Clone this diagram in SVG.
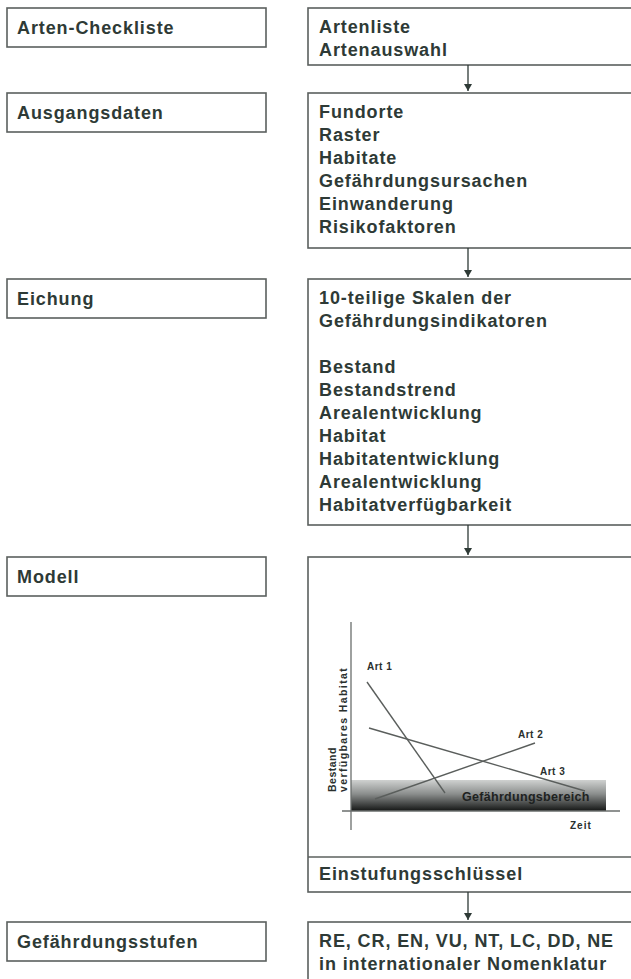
<svg xmlns="http://www.w3.org/2000/svg" width="631" height="979" viewBox="0 0 631 979">
<style>
.box{fill:#fff;stroke:#5b605e;stroke-width:1.6}
.t{font-family:"Liberation Sans",Arial,sans-serif;font-weight:bold;font-size:18px;letter-spacing:0.9px;fill:#2e3a36}
.s{font-family:"Liberation Sans",Arial,sans-serif;font-weight:bold;font-size:10px;letter-spacing:0.5px;fill:#2a302e}
.conn{stroke:#2e3a36;stroke-width:1.3;fill:none}
.ax{stroke:#6a6e6c;stroke-width:1.3;fill:none}
.ln{stroke:#5a5e5c;stroke-width:1.4;fill:none}
</style>
<defs>
<marker id="ah" markerWidth="8" markerHeight="9" refX="7" refY="4" orient="auto" markerUnits="userSpaceOnUse">
<path d="M0,0 L7,4 L0,8 Z" fill="#2e3a36"/>
</marker>
<linearGradient id="band" x1="0" y1="0" x2="0" y2="1">
<stop offset="0" stop-color="#cfd1d0"/>
<stop offset="0.45" stop-color="#8b8e8d"/>
<stop offset="1" stop-color="#141615"/>
</linearGradient>
</defs>
<rect width="631" height="979" fill="#fff"/>

<g id="arten-checkliste">
<rect class="box" x="7" y="8" width="259" height="39"/>
<text class="t" x="17" y="34">Arten-Checkliste</text>
</g>
<g id="artenliste">
<rect class="box" x="308" y="8" width="340" height="57"/>
<text class="t" x="319" y="33">Artenliste</text>
<text class="t" x="319" y="56">Artenauswahl</text>
</g>

<g id="ausgangsdaten">
<rect class="box" x="7" y="93" width="259" height="39"/>
<text class="t" x="17" y="119">Ausgangsdaten</text>
</g>
<g id="fundorte">
<rect class="box" x="308" y="93" width="340" height="155"/>
<text class="t" x="319" y="118">Fundorte</text>
<text class="t" x="319" y="141">Raster</text>
<text class="t" x="319" y="164">Habitate</text>
<text class="t" x="319" y="187">Gefährdungsursachen</text>
<text class="t" x="319" y="210">Einwanderung</text>
<text class="t" x="319" y="233">Risikofaktoren</text>
</g>

<g id="eichung">
<rect class="box" x="7" y="279" width="259" height="39"/>
<text class="t" x="17" y="305">Eichung</text>
</g>
<g id="skalen">
<rect class="box" x="308" y="279" width="340" height="246"/>
<text class="t" x="319" y="304">10-teilige Skalen der</text>
<text class="t" x="319" y="327">Gefährdungsindikatoren</text>
<text class="t" x="319" y="373">Bestand</text>
<text class="t" x="319" y="396">Bestandstrend</text>
<text class="t" x="319" y="419">Arealentwicklung</text>
<text class="t" x="319" y="442">Habitat</text>
<text class="t" x="319" y="465">Habitatentwicklung</text>
<text class="t" x="319" y="488">Arealentwicklung</text>
<text class="t" x="319" y="511">Habitatverfügbarkeit</text>
</g>

<g id="modell">
<rect class="box" x="7" y="557" width="259" height="39"/>
<text class="t" x="17" y="583">Modell</text>
</g>
<g id="modell-diagramm">
<rect class="box" x="308" y="557" width="340" height="335"/>
<line class="box" x1="308" y1="857" x2="648" y2="857"/>
<rect x="351" y="780" width="255" height="31" fill="url(#band)"/>
<line class="ax" x1="351" y1="622" x2="351" y2="830"/>
<line class="ax" x1="342" y1="811" x2="620" y2="811"/>
<line class="ln" x1="367" y1="682" x2="445" y2="793"/>
<line class="ln" x1="369" y1="728" x2="585" y2="791"/>
<line class="ln" x1="375" y1="799" x2="535" y2="743"/>
<text class="s" x="367" y="670">Art 1</text>
<text class="s" x="518" y="738">Art 2</text>
<text class="s" x="540" y="775">Art 3</text>
<text class="s" x="462" y="801" style="font-size:12.5px;letter-spacing:0.3px;fill:#1e2221">Gefährdungsbereich</text>
<text class="s" x="570" y="829" style="letter-spacing:1px">Zeit</text>
<text class="s" transform="translate(336,792) rotate(-90)" style="font-size:10.5px">Bestand</text>
<text class="s" transform="translate(347,792) rotate(-90)" style="font-size:10.5px;letter-spacing:1.4px">verfügbares Habitat</text>
<text class="t" x="319" y="880">Einstufungsschlüssel</text>
</g>

<g id="gefaehrdungsstufen">
<rect class="box" x="7" y="922" width="259" height="39"/>
<text class="t" x="17" y="948">Gefährdungsstufen</text>
</g>
<g id="nomenklatur">
<rect class="box" x="308" y="922" width="340" height="80"/>
<text class="t" x="319" y="947">RE, CR, EN, VU, NT, LC, DD, NE</text>
<text class="t" x="319" y="970">in internationaler Nomenklatur</text>
</g>

<g id="connectors">
<line class="conn" x1="468" y1="65" x2="468" y2="91" marker-end="url(#ah)"/>
<line class="conn" x1="468" y1="248" x2="468" y2="277" marker-end="url(#ah)"/>
<line class="conn" x1="468" y1="525" x2="468" y2="555" marker-end="url(#ah)"/>
<line class="conn" x1="468" y1="892" x2="468" y2="920" marker-end="url(#ah)"/>
</g>
</svg>
